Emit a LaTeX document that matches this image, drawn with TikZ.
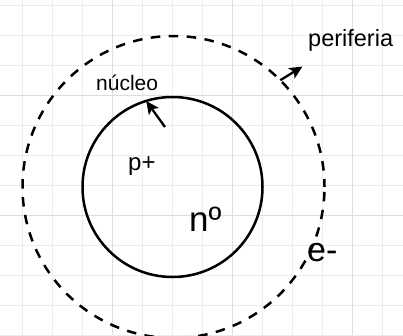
\documentclass[tikz,border=0pt]{standalone}
\usepackage{fontspec}
\setmainfont{Liberation Sans}
\usepackage{tikz}
\usetikzlibrary{arrows.meta,positioning}
\definecolor{gridminor}{RGB}{236,236,236}
\definecolor{gridmajor}{RGB}{222,222,222}
\tikzset{
  nucleus/.style={circle,draw=black,line width=2.5pt,minimum size=180pt,inner sep=0pt,outer sep=0pt},
  shell/.style={circle,draw=black,line width=2.5pt,dash pattern=on 9.5pt off 8.5pt,dash phase=1.5pt,
              minimum size=302pt,inner sep=0pt,outer sep=0pt},
  pointer/.style={-{Stealth[length=13pt,width=12pt,inset=3pt]},line width=2.3pt,draw=black},
  lbl/.style={inner sep=0pt,anchor=base west},
}
\begin{document}
\begin{tikzpicture}[x=1pt,y=-1pt]
  \useasboundingbox (0,0) rectangle (403,335);
  \clip (0,0) rectangle (403,335);
  % background grid
  \foreach \gx in {22,52,...,382} {
    \draw[gridminor,line width=0.8pt] (\gx,0) -- (\gx,335);
  }
  \foreach \gy in {5,35,...,335} {
    \draw[gridminor,line width=0.8pt] (0,\gy) -- (403,\gy);
  }
  \draw[gridmajor,line width=0.8pt] (112,0) -- (112,335) (232,0) -- (232,335) (352,0) -- (352,335);
  \draw[gridmajor,line width=0.8pt] (0,95) -- (403,95) (0,215) -- (403,215);

  \node[nucleus] (nucleo) at (172.5,187) {};
  \node[shell] (ring) at (173.5,187) {};

  \node[lbl,font=\fontsize{21}{24}\selectfont] (lnucleo) at (96,90.5) {núcleo};
  \node[lbl,font=\fontsize{23.5}{27}\selectfont] (lperiferia) at (308,46) {periferia};
  \node[lbl,font=\fontsize{24}{28}\selectfont] (proton) at (128,170) {p+};
  \node[lbl,font=\fontsize{35}{40}\selectfont] (neutron) at (189,231.5) {nº};
  \node[lbl,font=\fontsize{34}{40}\selectfont] (electron) at (307,261) {e-};

  \coordinate (ntail) at (165,127);
  \coordinate (phead) at (302.5,66.5);
  \draw[pointer] (ntail) -- (nucleo.107);
  \draw[pointer] (ring.45) -- (phead);
\end{tikzpicture}
\end{document}
